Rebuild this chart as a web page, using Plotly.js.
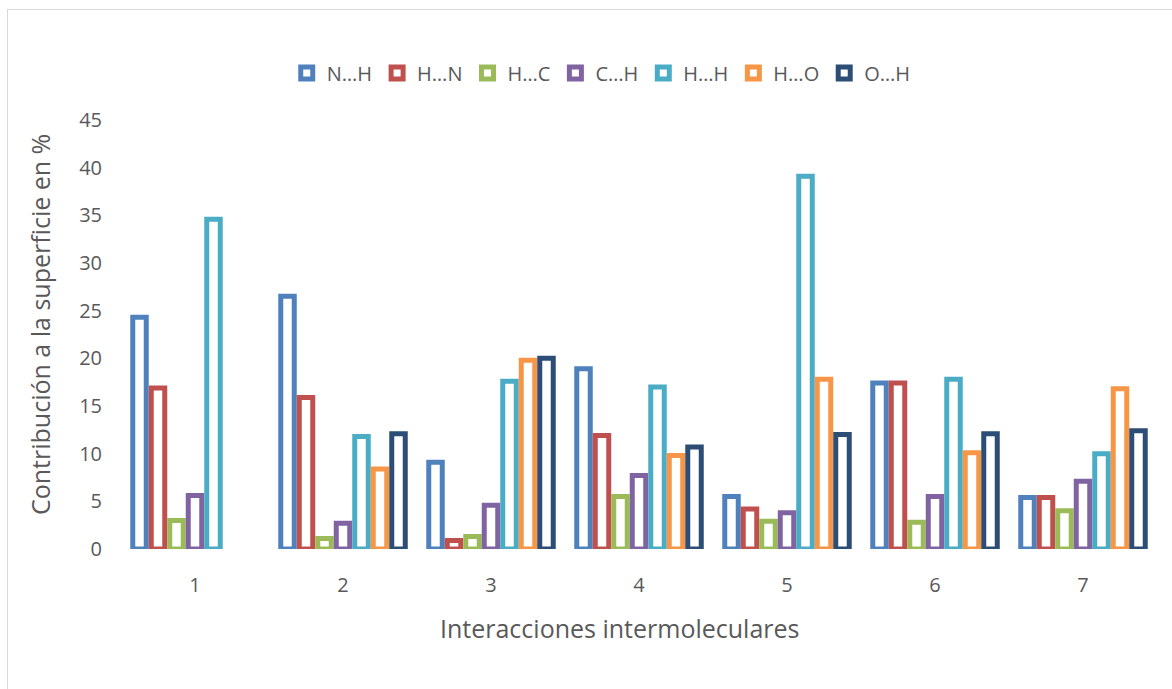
<!DOCTYPE html>
<html>
<head>
<meta charset="utf-8">
<script src="https://cdn.plot.ly/plotly-3.0.1.min.js"></script>
<style>
  html, body { margin: 0; padding: 0; background: #ffffff; overflow: hidden; }
  #wrap { position: relative; width: 1172px; height: 689px; }
  #chart { position: absolute; left: 0; top: 0; width: 1172px; height: 689px; }
  #frame { position: absolute; left: 7px; top: 9px; width: 1200px; height: 720px;
           border: 1px solid #d9d9d9; pointer-events: none; }
</style>
</head>
<body>
<div id="wrap">
  <div id="chart"></div>
  <div id="frame"></div>
</div>
<script>
// Categories (x axis)
const categories = ['1', '2', '3', '4', '5', '6', '7'];

// Series names
const seriesNames = ['N…H', 'H…N', 'H…C', 'C…H', 'H…H', 'H…O', 'O…H'];

// Series values (%)
const nH = [24.3, 26.5, 9.1, 18.9, 5.5, 17.4, 5.4];
const hN = [16.9, 15.9, 0.9, 11.9, 4.2, 17.4, 5.4];
const hC = [3.0, 1.1, 1.3, 5.5, 2.9, 2.8, 4.0];
const cH = [5.6, 2.7, 4.6, 7.7, 3.8, 5.5, 7.1];
const hH = [34.6, 11.8, 17.6, 17.0, 39.1, 17.8, 10.0];
const hO = [null, 8.4, 19.8, 9.8, 17.8, 10.1, 16.8];
const oH = [null, 12.1, 20.0, 10.7, 12.0, 12.1, 12.4];

// Y tick values
const yTicks = [0, 5, 10, 15, 20, 25, 30, 35, 40, 45];

// Axis titles
const xTitle = 'Interacciones intermoleculares';
const yTitle = 'Contribución a la superficie en %';

const seriesValues = [nH, hN, hC, cH, hH, hO, oH];
const seriesColors = ['#4F81BD', '#C0504D', '#9BBB59', '#8064A2', '#4BACC6', '#F79646', '#2C4D75'];

const gray = '#595959';
const fontFam = '"Open Sans", "Noto Sans", sans-serif';

const traces = seriesNames.map((name, i) => ({
  type: 'bar',
  name: name,
  x: categories,
  y: seriesValues[i],
  marker: { color: '#ffffff', line: { color: seriesColors[i], width: 5 } },
  hoverinfo: 'skip'
}));

const layout = {
  width: 1172,
  height: 689,
  paper_bgcolor: 'rgba(0,0,0,0)',
  plot_bgcolor: 'rgba(0,0,0,0)',
  font: { family: fontFam, color: gray, size: 20 },
  margin: { l: 121, r: 15, t: 120, b: 140, autoexpand: false },
  barmode: 'group',
  bargap: 0.125,
  bargroupgap: 0.27,
  showlegend: true,
  legend: {
    orientation: 'h',
    xref: 'container', yref: 'container',
    x: 0.513, xanchor: 'center',
    y: 1 - 73 / 689, yanchor: 'middle',
    font: { family: fontFam, size: 20, color: gray },
    itemwidth: 30,
    traceorder: 'normal',
    bgcolor: 'rgba(0,0,0,0)'
  },
  xaxis: {
    type: 'category',
    showgrid: false,
    zeroline: false,
    showline: false,
    ticks: '',
    ticklabelstandoff: 22,
    tickfont: { family: fontFam, size: 20, color: gray },
    automargin: false
  },
  yaxis: {
    range: [0, 45],
    tickvals: yTicks,
    showgrid: false,
    zeroline: false,
    showline: false,
    ticks: '',
    ticklabelstandoff: 18,
    tickfont: { family: fontFam, size: 20, color: gray },
    automargin: false
  },
  annotations: [
    {
      text: xTitle, xref: 'paper', yref: 'paper',
      x: (619 - 121) / 1036, y: (549 - 628) / 429,
      xanchor: 'center', yanchor: 'middle', showarrow: false,
      font: { family: fontFam, size: 25, color: gray }
    },
    {
      text: yTitle, xref: 'paper', yref: 'paper', textangle: -90,
      x: (40 - 121) / 1036, y: (549 - 325) / 429,
      xanchor: 'center', yanchor: 'middle', showarrow: false,
      font: { family: fontFam, size: 25, color: gray }
    }
  ]
};

Plotly.newPlot('chart', traces, layout, { staticPlot: true, displayModeBar: false });
</script>
</body>
</html>
